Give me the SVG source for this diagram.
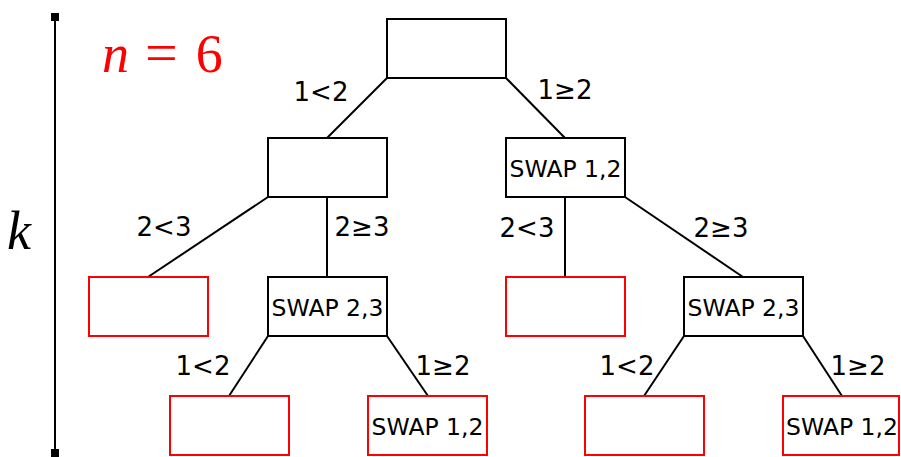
<svg xmlns="http://www.w3.org/2000/svg" width="901" height="457" viewBox="0 0 901 457">
  <style>
    .box { fill: #fff; stroke: #000; stroke-width: 2; }
    .leaf { fill: #fff; stroke: #ff0000; stroke-width: 2; }
    .edge { stroke: #000; stroke-width: 2; fill: none; }
    .lbl { font-family: "DejaVu Sans", sans-serif; font-size: 26px; text-anchor: middle; fill: #000; }
    .op { font-family: "DejaVu Sans", sans-serif; font-size: 23.5px; text-anchor: middle; fill: #000; }
    .math { font-family: "Liberation Serif", "DejaVu Serif", serif; }
  </style>

  <!-- depth scale -->
  <g id="scale">
    <line x1="55" y1="17" x2="55" y2="453" stroke="#000" stroke-width="2"/>
    <rect x="51" y="13" width="8" height="8" fill="#000"/>
    <rect x="51" y="449" width="8" height="8" fill="#000"/>
    <text class="math" x="7" y="249" font-size="54" font-style="italic">k</text>
  </g>
  <text id="n-label" class="math" x="102" y="72" font-size="54" fill="#ff0000"><tspan font-style="italic">n</tspan><tspan dx="16" font-size="58">=</tspan><tspan dx="18">6</tspan></text>

  <!-- connectors -->
  <g id="edges">
    <line class="edge" x1="387" y1="78" x2="327" y2="138"/>
    <line class="edge" x1="506" y1="78" x2="565" y2="138"/>
    <line class="edge" x1="268" y1="197" x2="148" y2="277"/>
    <line class="edge" x1="327" y1="197" x2="327" y2="277"/>
    <line class="edge" x1="565" y1="197" x2="565" y2="277"/>
    <line class="edge" x1="625" y1="197" x2="743" y2="277"/>
    <line class="edge" x1="268" y1="336" x2="229" y2="396"/>
    <line class="edge" x1="387" y1="336" x2="428" y2="396"/>
    <line class="edge" x1="684" y1="336" x2="644" y2="396"/>
    <line class="edge" x1="803" y1="336" x2="842" y2="396"/>
  </g>

  <!-- edge labels -->
  <g id="edge-labels">
    <text class="lbl" x="321" y="101">1&lt;2</text>
    <text class="lbl" x="565" y="99">1≥2</text>
    <text class="lbl" x="164" y="236">2&lt;3</text>
    <text class="lbl" x="362" y="236">2≥3</text>
    <text class="lbl" x="527" y="237">2&lt;3</text>
    <text class="lbl" x="721" y="237">2≥3</text>
    <text class="lbl" x="203" y="375">1&lt;2</text>
    <text class="lbl" x="443" y="375">1≥2</text>
    <text class="lbl" x="627" y="375">1&lt;2</text>
    <text class="lbl" x="858" y="375">1≥2</text>
  </g>

  <!-- nodes -->
  <g id="root"><rect class="box" x="387" y="19" width="119" height="59"/></g>
  <g id="n-l"><rect class="box" x="268" y="138" width="119" height="59"/></g>
  <g id="n-r"><rect class="box" x="506" y="138" width="119" height="59"/><text class="op" x="565.5" y="176.5">SWAP 1,2</text></g>
  <g id="n-ll"><rect class="leaf" x="89" y="277" width="119" height="59"/></g>
  <g id="n-lr"><rect class="box" x="268" y="277" width="119" height="59"/><text class="op" x="327.5" y="315.5">SWAP 2,3</text></g>
  <g id="n-rl"><rect class="leaf" x="506" y="277" width="119" height="59"/></g>
  <g id="n-rr"><rect class="box" x="684" y="277" width="119" height="59"/><text class="op" x="743.5" y="315.5">SWAP 2,3</text></g>
  <g id="n-lrl"><rect class="leaf" x="170" y="396" width="119" height="59"/></g>
  <g id="n-lrr"><rect class="leaf" x="368" y="396" width="119" height="59"/><text class="op" x="427.5" y="434.5">SWAP 1,2</text></g>
  <g id="n-rrl"><rect class="leaf" x="585" y="396" width="119" height="59"/></g>
  <g id="n-rrr"><rect class="leaf" x="783" y="396" width="116" height="59"/><text class="op" x="842" y="434.5">SWAP 1,2</text></g>
</svg>
